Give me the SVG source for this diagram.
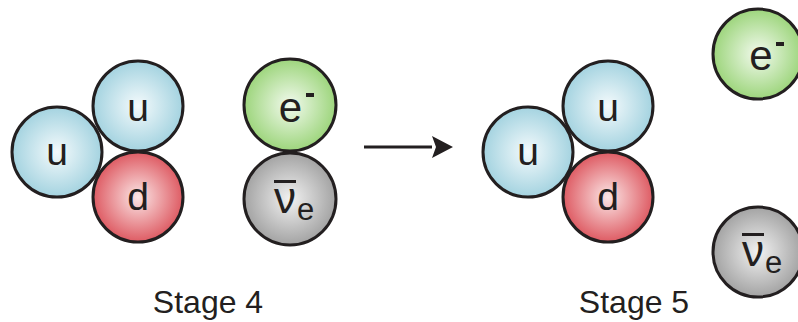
<svg xmlns="http://www.w3.org/2000/svg" width="798" height="322" viewBox="0 0 798 322">
<defs>
<radialGradient id="gb" cx="0.5" cy="0.5" r="0.5"><stop offset="0" stop-color="#f4fafc"/><stop offset="1" stop-color="#a4d3e0"/></radialGradient>
<radialGradient id="gr" cx="0.5" cy="0.5" r="0.5"><stop offset="0" stop-color="#fbe6e6"/><stop offset="1" stop-color="#de5b63"/></radialGradient>
<radialGradient id="gg" cx="0.5" cy="0.5" r="0.5"><stop offset="0" stop-color="#f2faee"/><stop offset="1" stop-color="#9dd57c"/></radialGradient>
<radialGradient id="gy" cx="0.5" cy="0.5" r="0.5"><stop offset="0" stop-color="#f2f2f2"/><stop offset="1" stop-color="#a3a3a3"/></radialGradient>
<marker id="ah" markerWidth="8" markerHeight="8" refX="0" refY="4" orient="auto" markerUnits="userSpaceOnUse" viewBox="0 0 8 8" overflow="visible">
<path d="M0,-7 L21,4 L0,15 L4,4 Z" fill="#231f20"/>
</marker>
</defs>
<style>
circle{stroke:#231f20;stroke-width:3}
.b{fill:url(#gb)}.r{fill:url(#gr)}.g{fill:url(#gg)}.y{fill:url(#gy)}
text{font-family:"Liberation Sans",Arial,sans-serif;fill:#231f20}
.q{font-size:39px;text-anchor:middle}
.e{font-size:42px;text-anchor:middle}
.nu{font-size:44px;text-anchor:middle}
.s{font-size:32px;text-anchor:middle}
.sub{font-size:31px}
.bar{fill:#231f20}
</style>
<g id="stage4">
<g id="u1"><circle class="b" cx="57" cy="152" r="45"/><text class="q" x="57" y="165">u</text></g>
<g id="u2"><circle class="b" cx="138" cy="106" r="45"/><text class="q" x="138" y="121">u</text></g>
<g id="d1"><circle class="r" cx="138" cy="197" r="45"/><text class="q" x="138" y="210">d</text></g>
<g id="e1"><circle class="g" cx="290" cy="105" r="46"/><text class="e" x="290.5" y="122">e</text><rect class="bar" x="306" y="93" width="8" height="4"/></g>
<g id="n1"><circle class="y" cx="290" cy="199" r="46"/><text class="nu" x="285" y="213">ν</text><rect class="bar" x="274" y="180" width="22" height="3"/><text class="sub" x="297" y="220">e</text></g>
<text id="l4" class="s" x="208" y="313">Stage 4</text>
</g>
<g id="stage5">
<g id="u3"><circle class="b" cx="528" cy="152" r="45"/><text class="q" x="528" y="165">u</text></g>
<g id="u4"><circle class="b" cx="608" cy="106" r="45"/><text class="q" x="608" y="121">u</text></g>
<g id="d2"><circle class="r" cx="608" cy="197" r="45"/><text class="q" x="608" y="210">d</text></g>
<g id="e2"><circle class="g" cx="758" cy="54" r="45"/><text class="e" x="761" y="70">e</text><rect class="bar" x="776" y="42" width="8" height="4"/></g>
<g id="n2"><circle class="y" cx="758" cy="252" r="45"/><text class="nu" x="753" y="266">ν</text><rect class="bar" x="742" y="233" width="22" height="3"/><text class="sub" x="765" y="273">e</text></g>
<text id="l5" class="s" x="634" y="313">Stage 5</text>
</g>
<g id="connectors">
<line x1="364" y1="147" x2="432" y2="147" stroke="#231f20" stroke-width="3" marker-end="url(#ah)"/>
</g>
</svg>
